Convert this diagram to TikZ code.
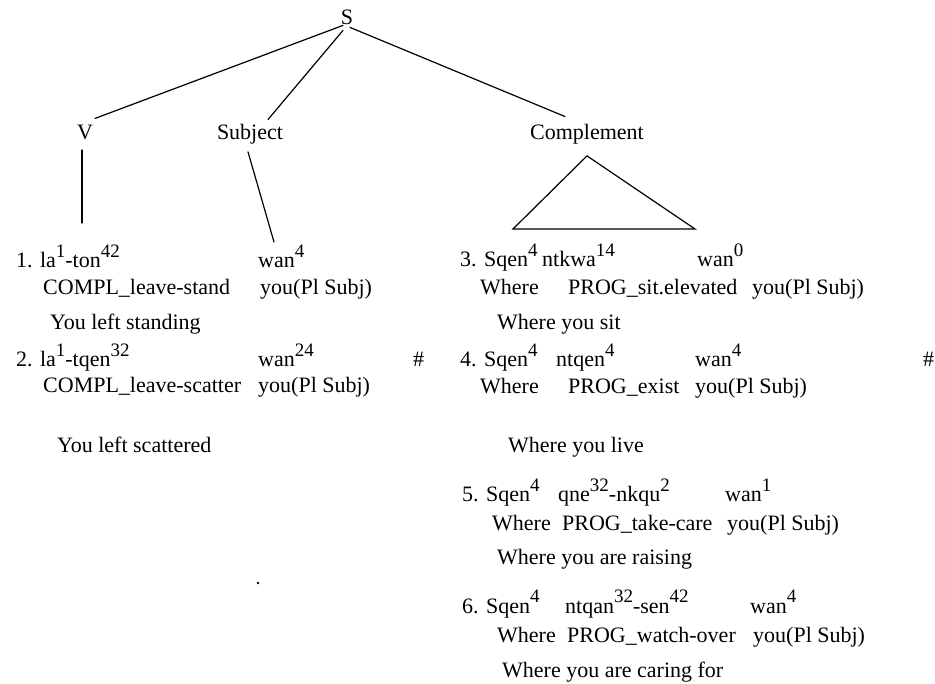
\documentclass[tikz,border=0pt]{standalone}
\usepackage{fontspec}
\setmainfont{Liberation Serif}
\newcommand\tn[1]{\raisebox{10.5pt}{\fontsize{19}{19}\selectfont #1}}
\tikzset{
  txt/.style={font=\fontsize{22}{26}\selectfont, anchor=base west, inner sep=0pt},
  lbl/.style={font=\fontsize{22}{26}\selectfont, anchor=base, inner sep=0pt},
  branch/.style={line width=1.2pt, line cap=round}
}
\begin{document}
\begin{tikzpicture}[x=1pt,y=1pt]
\useasboundingbox (0,0) rectangle (935,-684);
% tree labels
\node[lbl] (S) at (347,-25) {S};
\node[lbl] (V) at (85,-140) {V};
\node[lbl] (Subj) at (250,-140) {Subject};
\node[lbl] (Comp) at (587,-140) {Complement};
\coordinate (vend) at (82,-223);
\coordinate (subjend) at (274,-242);
\coordinate (triL) at (513,-229);
\coordinate (triR) at (695,-229);
% branches
\draw[branch] ([xshift=-4pt]S.south) -- ([shift={(2pt,7pt)}]V.north east);
\draw[branch] ([shift={(-4pt,-5pt)}]S.south) -- ([shift={(18pt,5pt)}]Subj.north);
\draw[branch] ([shift={(3pt,-2pt)}]S.south) -- ([shift={(-22pt,8pt)}]Comp.north);
\draw[branch] ([shift={(-3pt,-10pt)}]V.base) -- (vend);
\draw[branch] ([shift={(-2pt,-7pt)}]Subj.south) -- (subjend);
\draw[branch] ([yshift=-11pt]Comp.south) -- (triL) -- (triR) -- cycle;
% left column
\node[txt] (l1a) at (16,-268) {1. la\tn{1}-ton\tn{42}};
\node[txt] (l1b) at (258,-268) {wan\tn{4}};
\node[txt] (l2a) at (43,-295) {COMPL\_leave-stand};
\node[txt] (l2b) at (260,-295) {you(Pl Subj)};
\node[txt] (l3) at (50,-330) {You left standing};
\node[txt] (l4a) at (16,-367) {2. la\tn{1}-tqen\tn{32}};
\node[txt] (l4b) at (258,-367) {wan\tn{24}};
\node[txt] (l4c) at (413,-367) {\#};
\node[txt] (l5a) at (43,-393) {COMPL\_leave-scatter};
\node[txt] (l5b) at (258,-393) {you(Pl Subj)};
\node[txt] (l6) at (57,-453) {You left scattered};
\fill (258,-583) circle (1.3pt);
% right column
\node[txt] (r3a) at (460,-267) {3. Sqen\tn{4}};
\node[txt] (r3b) at (542,-267) {ntkwa\tn{14}};
\node[txt] (r3c) at (697,-267) {wan\tn{0}};
\node[txt] (r3d) at (480,-295) {Where};
\node[txt] (r3e) at (568,-295) {PROG\_sit.elevated};
\node[txt] (r3f) at (752,-295) {you(Pl Subj)};
\node[txt] (r3g) at (497,-330) {Where you sit};
\node[txt] (r4a) at (460,-367) {4. Sqen\tn{4}};
\node[txt] (r4b) at (556,-367) {ntqen\tn{4}};
\node[txt] (r4c) at (695,-367) {wan\tn{4}};
\node[txt] (r4h) at (923,-367) {\#};
\node[txt] (r4d) at (480,-394) {Where};
\node[txt] (r4e) at (568,-394) {PROG\_exist};
\node[txt] (r4f) at (695,-394) {you(Pl Subj)};
\node[txt] (r4g) at (508,-453) {Where you live};
\node[txt] (r5a) at (462,-502) {5. Sqen\tn{4}};
\node[txt] (r5b) at (558,-502) {qne\tn{32}-nkqu\tn{2}};
\node[txt] (r5c) at (725,-502) {wan\tn{1}};
\node[txt] (r5d) at (492,-530) {Where};
\node[txt] (r5e) at (562,-530) {PROG\_take-care};
\node[txt] (r5f) at (727,-530) {you(Pl Subj)};
\node[txt] (r5g) at (497,-565) {Where you are raising};
\node[txt] (r6a) at (462,-613) {6. Sqen\tn{4}};
\node[txt] (r6b) at (565,-613) {ntqan\tn{32}-sen\tn{42}};
\node[txt] (r6c) at (750,-613) {wan\tn{4}};
\node[txt] (r6d) at (497,-642) {Where};
\node[txt] (r6e) at (567,-642) {PROG\_watch-over};
\node[txt] (r6f) at (753,-642) {you(Pl Subj)};
\node[txt] (r6g) at (502,-677) {Where you are caring for};
\end{tikzpicture}
\end{document}
